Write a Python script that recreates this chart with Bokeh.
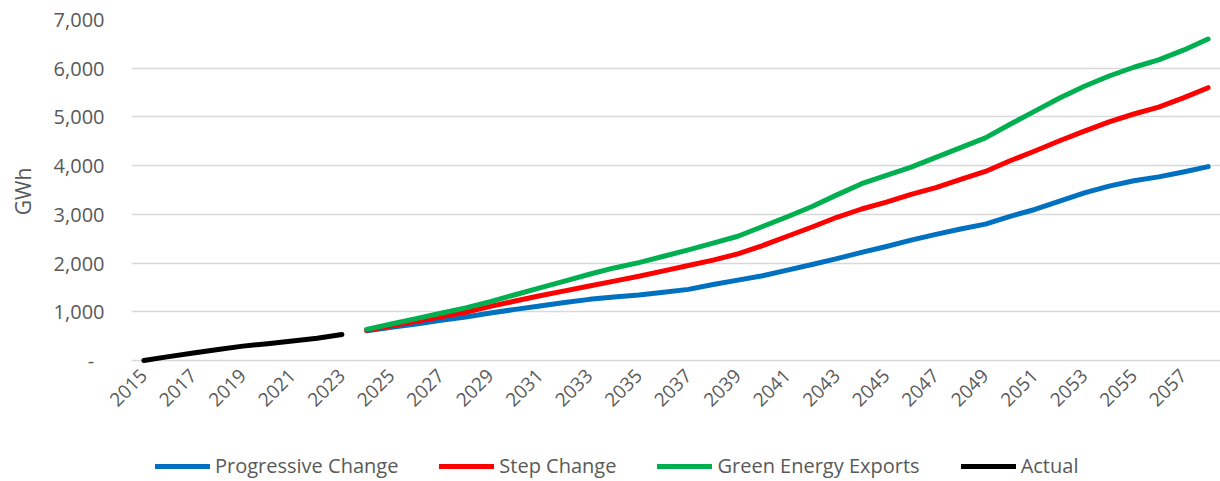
import math
from bokeh.plotting import figure
from bokeh.layouts import column
from bokeh.models import Range1d, FixedTicker, Legend, LegendItem, NumeralTickFormatter
from bokeh.embed import file_html
from bokeh.resources import INLINE

actual_years = list(range(2015, 2024))
actual = [0, 80, 155, 225, 295, 345, 400, 455, 535]

proj_years = list(range(2024, 2059))
progressive = [610, 680, 750, 825, 895, 975, 1050, 1120, 1190, 1255, 1305, 1345, 1400, 1460,
               1560, 1650, 1740, 1855, 1970, 2090, 2220, 2340, 2470, 2590, 2700, 2800, 2960,
               3100, 3270, 3440, 3580, 3690, 3770, 3870, 3980]
step = [620, 715, 805, 895, 990, 1110, 1220, 1330, 1430, 1530, 1630, 1730, 1840, 1950,
        2060, 2190, 2360, 2550, 2740, 2940, 3110, 3250, 3410, 3550, 3720, 3880, 4100,
        4300, 4510, 4710, 4900, 5060, 5200, 5390, 5600]
green = [640, 750, 860, 970, 1080, 1210, 1350, 1490, 1630, 1770, 1900, 2010, 2140, 2270,
         2410, 2550, 2750, 2950, 3160, 3400, 3630, 3800, 3970, 4170, 4370, 4570, 4850,
         5120, 5390, 5630, 5840, 6020, 6170, 6370, 6600]

series_names = ["Progressive Change", "Step Change", "Green Energy Exports", "Actual"]
series_colors = ["#0070C0", "#FF0000", "#00B050", "#000000"]

x_ticks = list(range(2015, 2058, 2))
y_ticks = [0, 1000, 2000, 3000, 4000, 5000, 6000, 7000]

TXT = "#595959"
FONT = "Open Sans"

p = figure(width=1220, height=430, output_backend="svg", toolbar_location=None,
           x_range=Range1d(2014.5, 2058.5), y_range=Range1d(-61.6, 7000),
           min_border_left=131, min_border_right=0, min_border_top=19, min_border_bottom=67)
p.outline_line_color = None
p.background_fill_color = "white"

p.xaxis.ticker = FixedTicker(ticks=x_ticks)
p.xaxis.major_label_orientation = math.pi / 4
p.xaxis.axis_line_color = None
p.xaxis.major_tick_line_color = None
p.xaxis.minor_tick_line_color = None
p.xaxis.major_tick_out = 0
p.xaxis.major_tick_in = 0
p.xaxis.major_label_standoff = 9
p.xaxis.major_label_text_color = TXT
p.xaxis.major_label_text_font = FONT
p.xaxis.major_label_text_font_size = "19px"

p.yaxis.ticker = FixedTicker(ticks=y_ticks)
p.yaxis.formatter = NumeralTickFormatter(format="0,0")
p.yaxis.major_label_overrides = {0: "-\u00a0\u00a0"}
p.yaxis.axis_line_color = None
p.yaxis.major_tick_line_color = None
p.yaxis.minor_tick_line_color = None
p.yaxis.major_tick_out = 0
p.yaxis.major_tick_in = 0
p.yaxis.major_label_standoff = 27
p.yaxis.major_label_text_color = TXT
p.yaxis.major_label_text_font = FONT
p.yaxis.major_label_text_font_size = "20px"
p.yaxis.axis_label = "GWh"
p.yaxis.axis_label_text_color = TXT
p.yaxis.axis_label_text_font = FONT
p.yaxis.axis_label_text_font_size = "21px"
p.yaxis.axis_label_text_font_style = "normal"
p.yaxis.axis_label_standoff = 14

p.xgrid.grid_line_color = None
p.ygrid.ticker = FixedTicker(ticks=y_ticks)
p.ygrid.grid_line_color = "#D9D9D9"
p.ygrid.grid_line_width = 1.5

style = dict(line_width=5, line_cap="round", line_join="round")
p.line(proj_years, progressive, line_color=series_colors[0], **style)
p.line(proj_years, step, line_color=series_colors[1], **style)
p.line(proj_years, green, line_color=series_colors[2], **style)
p.line(actual_years, actual, line_color=series_colors[3], **style)

# legend strip below the chart (frame is aligned with the chart's frame)
lg = figure(width=1220, height=51, output_backend="svg", toolbar_location=None,
            x_range=Range1d(0, 1), y_range=Range1d(0, 1),
            min_border_left=0, min_border_right=0, min_border_top=0, min_border_bottom=0,
            x_axis_location=None, y_axis_location=None)
lg.outline_line_color = None
lg.xgrid.visible = False
lg.ygrid.visible = False
items = []
for name, col, xs, ys in zip(series_names, series_colors,
                             [proj_years, proj_years, proj_years, actual_years],
                             [progressive, step, green, actual]):
    # same series, outside this strip's ranges: only its legend swatch shows
    r = lg.line(xs, ys, line_color=col, **style)
    items.append(LegendItem(label=name, renderers=[r]))

legend = Legend(items=items, orientation="horizontal", location=(24, 2))
legend.glyph_width = 55
legend.glyph_height = 20
legend.label_standoff = 5
legend.spacing = 41
legend.padding = 0
legend.margin = 0
legend.border_line_color = None
legend.background_fill_alpha = 0
legend.label_text_color = TXT
legend.label_text_font = FONT
legend.label_text_font_size = "20px"
lg.add_layout(legend, "center")

layout = column(p, lg, spacing=0)
open("out.html", "w").write(file_html(layout, INLINE))
